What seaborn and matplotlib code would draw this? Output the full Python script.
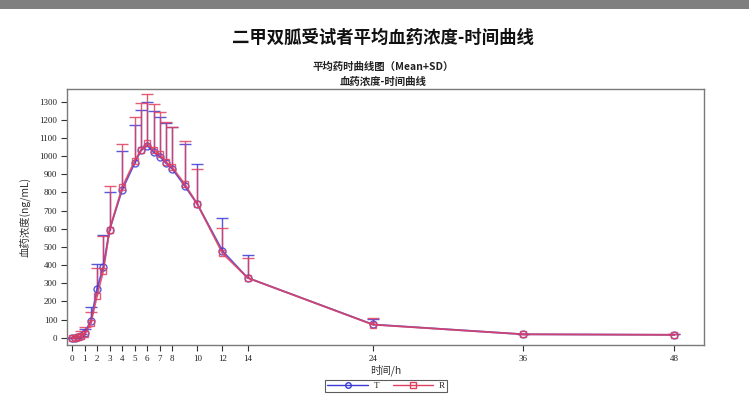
import numpy as np
import pandas as pd
import matplotlib
matplotlib.use("Agg")
import matplotlib.pyplot as plt
import matplotlib.patches as mpatches
import seaborn as sns

# Sampling times (h)
times = [0, 0.25, 0.5, 0.75, 1, 1.5, 2, 2.5, 3, 4, 5, 5.5, 6, 6.5, 7, 7.5, 8, 9, 10, 12, 14, 24, 36, 48]

# Test formulation (T): mean and SD of plasma concentration (ng/mL)
t_mean = [0, 0, 2, 8, 25, 92, 270, 392, 596, 815, 962, 1032, 1058, 1022, 998, 962, 930, 835, 735, 478, 330, 73, 19, 16]
t_sd = [0, 0, 3, 12, 23, 78, 138, 173, 209, 213, 210, 223, 242, 228, 220, 223, 228, 233, 223, 182, 125, 29, 3, 2]

# Reference formulation (R): mean and SD of plasma concentration (ng/mL)
r_mean = [0, 0, 2, 10, 20, 80, 232, 370, 596, 828, 975, 1032, 1072, 1035, 1010, 968, 938, 845, 735, 465, 330, 72, 19, 16]
r_sd = [0, 2, 6, 25, 40, 60, 151, 190, 239, 240, 240, 263, 268, 250, 235, 222, 222, 240, 195, 138, 110, 34, 4, 3]

x_ticks = [0, 1, 2, 3, 4, 5, 6, 7, 8, 10, 12, 14, 24, 36, 48]
y_ticks = list(range(0, 1301, 100))

sns.set_theme(style="white")
plt.rcParams["font.family"] = ["Noto Sans CJK SC", "DejaVu Sans"]
plt.rcParams["axes.unicode_minus"] = False

df = pd.DataFrame({
    "time": times * 2,
    "conc": t_mean + r_mean,
    "sd": t_sd + r_sd,
    "group": ["T"] * len(times) + ["R"] * len(times),
})
df["upper"] = df["conc"] + df["sd"]

blue = "#3b3bd6"
red = "#e0405e"
palette = {"T": blue, "R": red}

fig = plt.figure(figsize=(7.49, 4.05), dpi=100)
fig.patch.set_facecolor("white")

# grey band along the top edge of the page
fig.patches.append(mpatches.Rectangle((0, 1 - 9 / 405), 1, 9 / 405, transform=fig.transFigure,
                                      facecolor="#7f7f7f", edgecolor="none", zorder=0))

ax = fig.add_axes([67 / 749, 1 - 345 / 405, 637 / 749, 256 / 405])

sns.lineplot(data=df, x="time", y="conc", hue="group", style="group",
             hue_order=["T", "R"], style_order=["T", "R"], palette=palette,
             markers={"T": "o", "R": "s"}, dashes=False, markersize=5,
             linewidth=1.3, alpha=0.85, legend=False, ax=ax, zorder=3)
for line, color in zip(list(ax.lines)[:2], [blue, red]):
    line.set_markeredgecolor(color)
    line.set_markerfacecolor("none")
    line.set_markeredgewidth(1.0)

# upper-only error bars (Mean+SD) with a cap at the top
for grp, color in [("T", blue), ("R", red)]:
    sub = df[df["group"] == grp]
    ax.vlines(sub["time"], sub["conc"], sub["upper"], colors=color, linewidth=1.0,
              alpha=0.85, zorder=2)
    ax.plot(sub["time"], sub["upper"], linestyle="none", marker="_", markersize=9,
            markeredgewidth=1.0, color=color, alpha=0.85, zorder=2)

ax.set_xlim(-0.4, 50.4)
ax.set_ylim(-40, 1370)
ax.set_xticks(x_ticks)
ax.set_xticklabels([str(v) for v in x_ticks], family="Liberation Serif", fontsize=6.5)
ax.set_yticks(y_ticks)
ax.set_yticklabels([str(v) for v in y_ticks], family="Liberation Serif", fontsize=6.5)
ax.tick_params(axis="both", direction="out", length=4, width=0.8, color="#333333",
               bottom=True, left=True, pad=3, labelcolor="#222222")
for s in ax.spines.values():
    s.set_color("#7a7a7a")
    s.set_linewidth(1.0)

ax.set_xlabel("时间/h", fontsize=7.5, color="#333333", labelpad=1)
ax.set_ylabel("血药浓度(ng/mL)", fontsize=7.5, color="#333333", labelpad=6)

fig.text(383 / 749, 1 - 38 / 405, "二甲双胍受试者平均血药浓度-时间曲线", ha="center", va="center",
         fontsize=12.5, fontweight="bold", color="#111111")
fig.text(383 / 749, 1 - 67 / 405, "平均药时曲线图（Mean+SD）", ha="center", va="center",
         fontsize=7.5, fontweight="bold", color="#222222")
fig.text(383 / 749, 1 - 82 / 405, "血药浓度-时间曲线", ha="center", va="center",
         fontsize=7.5, fontweight="bold", color="#222222")

handles = [
    plt.Line2D([], [], color=blue, marker="o", markerfacecolor="none", markersize=4, linewidth=1.0),
    plt.Line2D([], [], color=red, marker="s", markerfacecolor="none", markersize=4, linewidth=1.0),
]
leg = fig.legend(handles, ["T", "R"], loc="center", bbox_to_anchor=(386 / 749, 1 - 386 / 405),
                 ncol=2, frameon=True, fancybox=False, handlelength=4.5,
                 columnspacing=1.5, handletextpad=0.6, borderpad=0.25,
                 prop={"family": "Liberation Serif", "size": 6.5})
leg.get_frame().set_edgecolor("#333333")
leg.get_frame().set_linewidth(0.8)

fig.savefig("out.png", dpi=100)
